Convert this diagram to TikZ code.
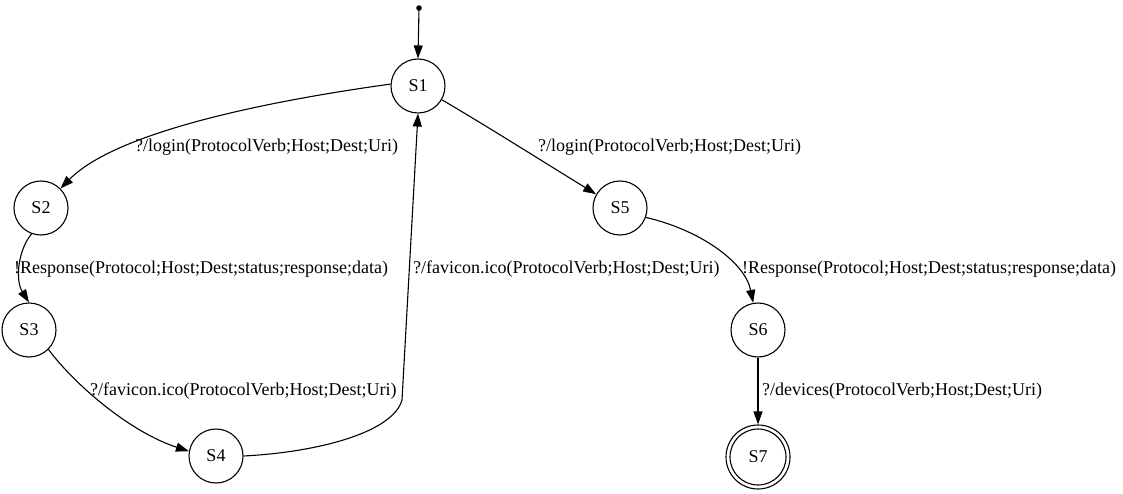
\documentclass[tikz,border=0pt]{standalone}
\usepackage{fontspec}
\setmainfont{Liberation Serif}
\usetikzlibrary{arrows.meta}
\begin{document}
\begin{tikzpicture}[x=1pt,y=-1pt,
  every node/.style={font=\fontsize{18}{21}\selectfont},
  state/.style={circle,draw,line width=1.1pt,minimum size=54pt,inner sep=0pt},
  ring/.style={circle,draw,line width=1.1pt,minimum size=64pt,inner sep=0pt},
  lbl/.style={anchor=west,inner sep=0pt},
  edge/.style={line width=1.1pt,-{Triangle[length=13pt,width=9pt]}}]
\useasboundingbox (0,0) rectangle (1123,494);

% states
\node[state] (S1) at (418,86) {S1};
\node[state] (S2) at (41,208) {S2};
\node[state] (S3) at (29,330) {S3};
\node[state] (S4) at (216,456) {S4};
\node[state] (S5) at (620,208) {S5};
\node[state] (S6) at (758,330) {S6};
\node[circle,draw,line width=1.1pt,minimum size=56pt,inner sep=0pt] (S7) at (758,457) {S7};
\node[ring] (S7o) at (S7) {};

% initial marker
\fill (419,8) circle (2.8);
\coordinate (init) at (419,8);

% transitions
\draw[edge] (init) -- (S1.north);
\draw[edge] (S1.176) .. controls (290,98) and (120,128) .. (S2.45);
\draw[edge] (S1.-30) .. controls (490,128) and (550,166) .. (S5.150);
\draw[edge] (S2.250) .. controls (18,250) and (15,280) .. (S3.north);
\draw[edge] (S3.-45) .. controls (75,385) and (130,432) .. (S4.170);
\draw[edge] (S4.east) .. controls (320,452) and (393,432) .. (402,400) -- (S1.south);
\draw[edge] (S5.-20) .. controls (700,230) and (745,262) .. (S6.100);
\draw[edge] (S6.south) -- (S7o.north);

% transition labels
\node[lbl] (l12) at (135,147) {?/login(ProtocolVerb;Host;Dest;Uri)};
\node[lbl] (l15) at (538,147) {?/login(ProtocolVerb;Host;Dest;Uri)};
\node[lbl] (l23) at (14,269) {!Response(Protocol;Host;Dest;status;response;data)};
\node[lbl] (l56) at (742,269) {!Response(Protocol;Host;Dest;status;response;data)};
\node[lbl] (l41) at (413,269) {?/favicon.ico(ProtocolVerb;Host;Dest;Uri)};
\node[lbl] (l34) at (90,391) {?/favicon.ico(ProtocolVerb;Host;Dest;Uri)};
\node[lbl] (l67) at (762,391) {?/devices(ProtocolVerb;Host;Dest;Uri)};
\end{tikzpicture}
\end{document}
